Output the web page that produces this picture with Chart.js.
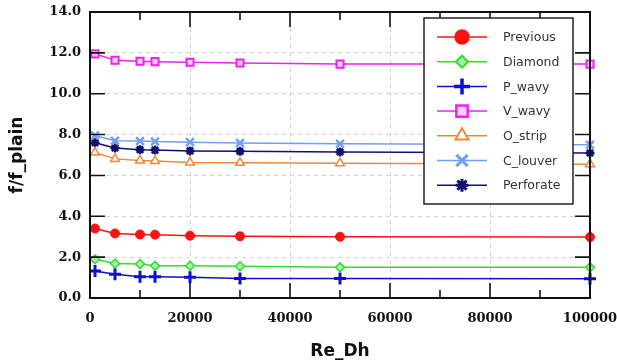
<!DOCTYPE html>
<html>
<head>
<meta charset="utf-8">
<script src="https://cdn.jsdelivr.net/npm/chart.js@4.4.1/dist/chart.umd.min.js"></script>
<style>
  html, body { margin: 0; padding: 0; background: #fff; }
  #wrap { width: 617px; height: 363px; }
</style>
</head>
<body>
<div id="wrap"><canvas id="myChart" width="617" height="363"></canvas></div>
<script>
// Re_Dh values where each fin type was measured
const reDh = [1000, 5000, 10000, 13000, 20000, 30000, 50000, 100000];

// f/f_plain per fin type
const previous  = [3.40, 3.16, 3.11, 3.10, 3.05, 3.02, 3.00, 2.98];
const diamond   = [1.90, 1.69, 1.66, 1.58, 1.58, 1.55, 1.50, 1.50];
const pWavy     = [1.32, 1.16, 1.04, 1.04, 1.01, 0.96, 0.95, 0.94];
const vWavy     = [11.95, 11.64, 11.59, 11.57, 11.54, 11.50, 11.45, 11.45];
const oStrip    = [7.12, 6.81, 6.73, 6.71, 6.63, 6.62, 6.60, 6.55];
const cLouver   = [7.95, 7.70, 7.68, 7.66, 7.63, 7.59, 7.55, 7.50];
const perforate = [7.60, 7.34, 7.26, 7.24, 7.20, 7.18, 7.15, 7.10];

const seriesNames = ['Previous', 'Diamond', 'P_wavy', 'V_wavy', 'O_strip', 'C_louver', 'Perforate'];
const seriesData = [previous, diamond, pWavy, vWavy, oStrip, cLouver, perforate];

const yTicks = { min: 0, max: 14, step: 2 };
const xTicks = { min: 0, max: 100000, step: 20000 };

// marker styles, same order as seriesNames
const estilos = [
    { color: '#ff1010', fill: '#ff1010', style: 'circle',   r: 4.5, lr: 7,   bw: 1 },
    { color: '#30dd30', fill: '#a8f0a8', style: 'rectRot',  r: 4.5, lr: 6,   bw: 1.5 },
    { color: '#1010d0', fill: '#1010d0', style: 'cross',    r: 6,   lr: 8,   bw: 3 },
    { color: '#f020f0', fill: '#fbd0fb', style: 'rect',     r: 5,   lr: 8,   bw: 2 },
    { color: '#f08838', fill: '#ffffff', style: 'triangle', r: 5,   lr: 7.5, bw: 1.5 },
    { color: '#70a0f0', fill: '#70a0f0', style: 'crossRot', r: 5.5, lr: 8,   bw: 2.5 },
    { color: '#101070', fill: '#101070', style: 'star',     r: 4.5, lr: 6.5, bw: 2.5 }
];

const datasets = seriesNames.map(function(name, i){
    const e = estilos[i];
    return {
        label: name,
        data: reDh.map((x, j) => ({ x: x, y: seriesData[i][j] })),
        borderColor: e.color,
        backgroundColor: e.color,
        borderWidth: 1.5,
        pointStyle: e.style,
        pointRadius: e.r,
        pointBorderWidth: e.bw,
        pointBorderColor: e.color,
        pointBackgroundColor: e.fill,
        tension: 0,
        clip: false
    };
});

// frame, inward ticks and boxed legend
const marcoPlugin = {
    id: 'marco',
    afterDraw(chart) {
        const ctx = chart.ctx;
        const a = chart.chartArea;
        const xs = chart.scales.x, ys = chart.scales.y;
        ctx.save();
        ctx.strokeStyle = '#111';
        ctx.lineWidth = 2;
        ctx.strokeRect(a.left, a.top, a.right - a.left, a.bottom - a.top);

        ctx.lineWidth = 1.6;
        ctx.beginPath();
        const xv = xs.ticks.map(t => t.value);
        xv.forEach(function(v, k){
            const px = xs.getPixelForValue(v);
            ctx.moveTo(px, a.bottom); ctx.lineTo(px, a.bottom - 15);
            ctx.moveTo(px, a.top); ctx.lineTo(px, a.top + 15);
            if (k < xv.length - 1) {
                const pm = xs.getPixelForValue((v + xv[k + 1]) / 2);
                ctx.moveTo(pm, a.bottom); ctx.lineTo(pm, a.bottom - 8);
                ctx.moveTo(pm, a.top); ctx.lineTo(pm, a.top + 8);
            }
        });
        ys.ticks.forEach(function(t){
            const py = ys.getPixelForValue(t.value);
            ctx.moveTo(a.left, py); ctx.lineTo(a.left + 15, py);
            ctx.moveTo(a.right, py); ctx.lineTo(a.right - 15, py);
        });
        ctx.stroke();

        // legend box
        const L = chart.options.plugins.marco;
        ctx.fillStyle = '#fff';
        ctx.fillRect(L.x, L.y, L.w, L.h);
        ctx.strokeStyle = '#222';
        ctx.lineWidth = 1.5;
        ctx.strokeRect(L.x, L.y, L.w, L.h);
        ctx.font = '12.5px "DejaVu Sans"';
        ctx.textBaseline = 'middle';
        chart.data.datasets.forEach(function(ds, i){
            const e = estilos[i];
            const yy = L.y + L.first + i * L.gap;
            ctx.strokeStyle = e.color;
            ctx.lineWidth = 1.5;
            ctx.beginPath();
            ctx.moveTo(L.x + 13, yy); ctx.lineTo(L.x + 63, yy);
            ctx.stroke();
            ctx.fillStyle = e.fill;
            ctx.strokeStyle = e.color;
            ctx.lineWidth = e.bw + 0.5;
            Chart.helpers.drawPoint(ctx, { pointStyle: e.style, rotation: 0, radius: e.lr, borderWidth: e.bw + 0.5 }, L.x + 38, yy);
            ctx.fillStyle = '#333';
            ctx.fillText(ds.label, L.x + 79, yy + 1);
        });
        ctx.restore();
    }
};

const ctx = document.getElementById('myChart').getContext('2d');
const myChart = new Chart(ctx, {
    type: 'line',
    data: { datasets: datasets },
    options: {
        responsive: false,
        animation: false,
        devicePixelRatio: 1,
        layout: { padding: { left: 0, right: 27, top: 12, bottom: 0 } },
        plugins: {
            legend: { display: false },
            tooltip: { enabled: false },
            marco: { x: 424, y: 18, w: 149, h: 186, first: 19, gap: 24.7 }
        },
        scales: {
            x: {
                type: 'linear',
                min: xTicks.min,
                max: xTicks.max,
                afterFit: function(s){ s.height = 65; s.paddingLeft = 0; s.paddingRight = 0; },
                border: { display: false, dash: [4, 4] },
                grid: { color: '#d4d4d4', drawTicks: false },
                ticks: {
                    stepSize: xTicks.step,
                    padding: 13,
                    color: '#111',
                    maxRotation: 0,
                    font: { family: '"DejaVu Serif"', size: 13, weight: 'bold' },
                    callback: v => String(v)
                },
                title: {
                    display: true,
                    text: 'Re_Dh',
                    color: '#111',
                    padding: { top: 4, bottom: 1 },
                    font: { family: '"DejaVu Sans"', size: 17, weight: 'bold' }
                }
            },
            y: {
                min: yTicks.min,
                max: yTicks.max,
                afterFit: function(s){ s.width = 90; s.paddingTop = 0; s.paddingBottom = 0; },
                border: { display: false, dash: [4, 4] },
                grid: { color: '#d4d4d4', drawTicks: false },
                ticks: {
                    stepSize: yTicks.step,
                    padding: 9,
                    color: '#111',
                    font: { family: '"DejaVu Serif"', size: 13, weight: 'bold' },
                    callback: v => v.toFixed(1)
                },
                title: {
                    display: true,
                    text: 'f/f_plain',
                    color: '#111',
                    padding: { top: 7, bottom: 0 },
                    font: { family: '"DejaVu Sans"', size: 17, weight: 'bold' }
                }
            }
        }
    },
    plugins: [marcoPlugin]
});
</script>
</body>
</html>
